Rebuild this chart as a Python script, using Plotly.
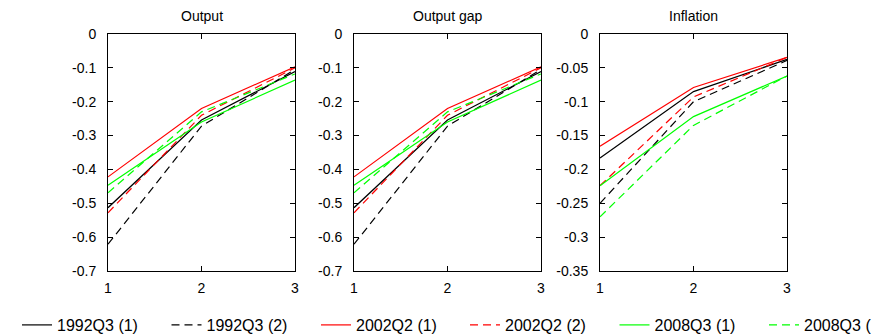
import plotly.graph_objects as go
from plotly.subplots import make_subplots

horizons = [1, 2, 3]
panel_titles = ["Output", "Output gap", "Inflation"]
series_names = ["1992Q3 (1)", "1992Q3 (2)", "2002Q2 (1)", "2002Q2 (2)", "2008Q3 (1)", "2008Q3 (2)"]
series_colors = ["black", "black", "red", "red", "rgb(0,255,0)", "rgb(0,255,0)"]
series_dash = ["solid", "8px,5px", "solid", "8px,5px", "solid", "8px,5px"]
series_legend = ["legend", "legend", "legend", "legend2", "legend2", "legend2"]

output_vals = [
    [-0.513, -0.254, -0.111],
    [-0.621, -0.272, -0.105],
    [-0.422, -0.220, -0.097],
    [-0.528, -0.240, -0.100],
    [-0.447, -0.260, -0.136],
    [-0.469, -0.230, -0.118],
]
output_gap_vals = [
    [-0.513, -0.254, -0.111],
    [-0.621, -0.272, -0.105],
    [-0.422, -0.220, -0.097],
    [-0.528, -0.240, -0.100],
    [-0.447, -0.260, -0.136],
    [-0.469, -0.230, -0.118],
]
inflation_vals = [
    [-0.183, -0.085, -0.0375],
    [-0.250, -0.100, -0.039],
    [-0.1657, -0.079, -0.0345],
    [-0.224, -0.093, -0.0345],
    [-0.224, -0.122, -0.062],
    [-0.270, -0.135, -0.062],
]

y_ticks_out = [0, -0.1, -0.2, -0.3, -0.4, -0.5, -0.6, -0.7]
y_ticktext_out = ["0", "-0.1", "-0.2", "-0.3", "-0.4", "-0.5", "-0.6", "-0.7"]
y_ticks_inf = [0, -0.05, -0.1, -0.15, -0.2, -0.25, -0.3, -0.35]
y_ticktext_inf = ["0", "-0.05", "-0.1", "-0.15", "-0.2", "-0.25", "-0.3", "-0.35"]

panels = [output_vals, output_gap_vals, inflation_vals]

fig = make_subplots(rows=1, cols=3)

for p, data in enumerate(panels):
    for i, name in enumerate(series_names):
        fig.add_trace(go.Scatter(
            x=horizons, y=data[i], mode="lines", name=name,
            line=dict(color=series_colors[i], dash=series_dash[i], width=1.2),
            showlegend=(p == 0), legendgroup=name, legend=series_legend[i],
        ), row=1, col=p + 1)

W = 679.0
domains = [[0, 187 / W], [246 / W, 433 / W], [492 / W, 1]]
family = "Liberation Sans, Arial, sans-serif"
font = dict(family=family, size=14, color="black")

for p in range(3):
    xa = "xaxis" if p == 0 else f"xaxis{p+1}"
    ya = "yaxis" if p == 0 else f"yaxis{p+1}"
    fig.layout[xa].update(
        domain=domains[p], range=[1, 3], tickvals=horizons, ticks="inside", ticklen=5,
        showline=True, linecolor="black", linewidth=1, mirror="ticks", showgrid=False,
        zeroline=False, tickfont=font, tickcolor="black", ticklabelstandoff=4,
    )
    if p < 2:
        fig.layout[ya].update(range=[-0.7, 0], tickvals=y_ticks_out, ticktext=y_ticktext_out)
    else:
        fig.layout[ya].update(range=[-0.35, 0], tickvals=y_ticks_inf, ticktext=y_ticktext_inf)
    fig.layout[ya].update(
        ticks="inside", ticklen=5, showline=True, linecolor="black", linewidth=1,
        mirror="ticks", showgrid=False, zeroline=False, tickfont=font, tickcolor="black",
        ticklabelstandoff=8,
    )
    fig.add_annotation(
        text=panel_titles[p], x=(domains[p][0] + domains[p][1]) / 2, y=1,
        xref="paper", yref="paper", xanchor="center", yanchor="bottom", yshift=8,
        showarrow=False, font=font,
    )

legend_font = dict(family=family, size=16, color="black")
legend_common = dict(
    orientation="h", xref="container", yref="container", xanchor="left",
    y=0, yanchor="bottom", entrywidth=104.5, entrywidthmode="pixels",
    font=legend_font, bgcolor="rgba(0,0,0,0)", tracegroupgap=0,
)

fig.update_layout(
    width=879, height=334,
    margin=dict(l=100, r=100, t=26, b=71, autoexpand=False),
    paper_bgcolor="white", plot_bgcolor="white",
    font=font,
    legend=dict(x=9 / 879, **legend_common),
    legend2=dict(x=457 / 879, **legend_common),
)

fig.write_html("out.html")
